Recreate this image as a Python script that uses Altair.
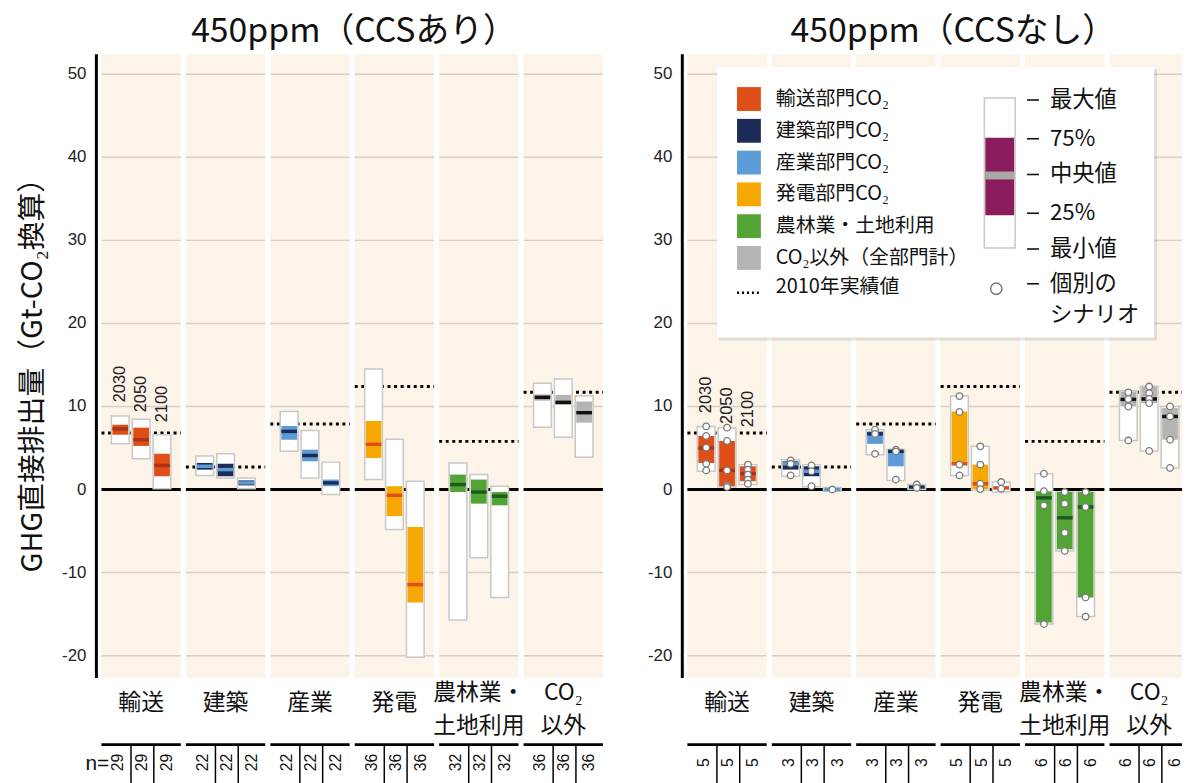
import altair as alt
import pandas as pd

# ---------------- data ----------------
PANEL_TITLES = ["450ppm（CCSあり）", "450ppm（CCSなし）"]
CATEGORY_LINES = [["輸送"], ["建築"], ["産業"], ["発電"], ["農林業・", "土地利用"], ["CO₂", "以外"]]
YEARS = ["2030", "2050", "2100"]
SECTOR_COLORS = ["#e04e17", "#1d2b57", "#5b9bd6", "#f6a800", "#52a535", "#b4b4b4"]
MEDIAN_COLORS = ["#a9321a", "#5b9bd6", "#1d2b57", "#e04e17", "#1e5b22", "#111111"]
LEGEND_LABELS = ["輸送部門CO₂", "建築部門CO₂", "産業部門CO₂", "発電部門CO₂",
                 "農林業・土地利用", "CO₂以外（全部門計）"]
HIST_2010 = [6.8, 2.7, 7.9, 12.4, 5.8, 11.7]
N_SCEN = [[29, 22, 22, 36, 32, 36], [5, 3, 3, 5, 6, 6]]
Y_TICKS = [-20, -10, 0, 10, 20, 30, 40, 50]
GRID_VALUES = [-20, -10, 10, 20, 30, 40, 50]

# left panel (CCSあり): sector x year (2030, 2050, 2100)
CCS_MIN = [[5.5, 3.7, 0.1], [1.7, 1.4, 0.1], [4.6, 1.4, -0.6], [1.2, -4.8, -20.2], [-15.7, -8.2, -13.0], [7.5, 6.3, 3.9]]
CCS_Q1 = [[6.6, 5.25, 1.6], [2.4, 1.6, 0.5], [6.0, 3.4, 0.4], [3.8, -3.2, -13.6], [-0.3, -1.7, -1.9], [10.7, 10.2, 8.05]]
CCS_MED = [[7.3, 6.0, 2.9], [2.8, 2.4, 0.8], [7.0, 4.1, 0.8], [5.45, -0.7, -11.45], [0.6, -0.3, -0.8], [11.1, 10.5, 9.25]]
CCS_Q3 = [[7.8, 7.45, 4.3], [3.2, 3.1, 1.1], [7.65, 4.8, 1.2], [8.25, 0.4, -4.5], [1.8, 1.2, -0.3], [11.45, 11.4, 10.6]]
CCS_MAX = [[8.85, 8.45, 6.6], [4.05, 4.3, 1.4], [9.4, 7.1, 3.3], [14.5, 6.05, 1.0], [3.2, 1.8, 0.4], [12.8, 13.3, 11.25]]

# right panel (CCSなし)
NOCCS_MIN = [[2.2, 0.3, 0.6], [1.6, 0.35, -0.2], [4.2, 1.1, 0.0], [1.7, -0.1, -0.3], [-16.2, -7.4, -15.3], [5.9, 4.65, 2.6]]
NOCCS_Q1 = [[3.2, 0.4, 1.0], [2.4, 1.6, -0.1], [5.5, 2.8, 0.15], [3.0, 0.05, 0.1], [-16.0, -7.2, -13.0], [10.0, 10.4, 6.0]]
NOCCS_MED = [[5.0, 2.3, 1.9], [3.1, 2.2, 0.0], [6.7, 4.6, 0.3], [3.1, 0.7, 0.2], [-1.0, -3.4, -2.1], [10.85, 10.9, 8.8]]
NOCCS_Q3 = [[6.45, 5.85, 2.8], [3.4, 2.8, 0.1], [7.0, 4.7, 0.45], [9.4, 3.0, 0.35], [-0.2, -0.3, -0.3], [11.8, 12.4, 9.8]]
NOCCS_MAX = [[7.6, 7.45, 3.0], [3.6, 3.0, 0.25], [7.2, 4.85, 0.6], [11.25, 5.2, 0.9], [1.9, -0.3, -0.3], [11.9, 12.45, 10.0]]
NOCCS_SCENARIOS = [
    [[7.6, 6.45, 5.05, 3.1, 2.3], [7.45, 5.85, 2.3, 0.5, 0.3], [3.0, 2.4, 1.8, 1.2, 0.7]],
    [[3.5, 3.1, 1.7], [2.9, 2.2, 0.4], [0.0]],
    [[7.2, 6.7, 4.3], [4.8, 4.6, 1.2], [0.6, 0.2]],
    [[11.25, 9.35, 3.0, 1.7], [5.2, 3.0, 0.7, 0.05], [0.9, 0.1]],
    [[1.9, -0.2, -1.9, -16.2], [-0.3, -1.7, -5.2, -7.4], [-0.3, -2.1, -13.0, -15.3]],
    [[11.7, 10.9, 10.0, 5.9], [12.4, 11.6, 10.9, 10.4, 4.65], [10.0, 8.8, 6.0, 2.6]],
]
STATS = [(CCS_MIN, CCS_Q1, CCS_MED, CCS_Q3, CCS_MAX),
         (NOCCS_MIN, NOCCS_Q1, NOCCS_MED, NOCCS_Q3, NOCCS_MAX)]

# ---------------- layout ----------------
W, H = 1093, 628
UNIT = 85.0
XMAX = W / UNIT
YMIN, YMAX = -22.7, 52.4
OFFSETS = [0.0, 6.94]
TITLE_X = [3.05, 3.21]
COL0 = 0.53
YEAR_OFF = [-0.247, 0.0, 0.247]
BOX_HALF = 0.105
IN_HALF = 0.093
COL_HALF = 0.47
YEAR_LABEL_Y = [[10.5, 9.3, 8.1], [9.2, 7.9, 7.5]]
CREAM = "#fcf4e8"
GRID = "#d6d0c8"
BOXLINE = "#c8c8c8"
FONT_JP = "Noto Sans CJK JP"
FONT_NUM = "Liberation Sans Narrow, Liberation Sans, sans-serif"
FONT_LAT = "Liberation Sans, sans-serif"

xs = alt.Scale(domain=[0, XMAX], nice=False, zero=False)
ys = alt.Scale(domain=[YMIN, YMAX], nice=False, zero=False)


def X(f):
    return alt.X(f, type="quantitative", scale=xs, axis=None)


def Y(f):
    return alt.Y(f, type="quantitative", scale=ys, axis=None)


def PY(f):
    return alt.Y(f, type="quantitative", scale=None, axis=None)


# columns
cols = []
for p, off in enumerate(OFFSETS):
    for i in range(6):
        c = off + COL0 + i
        cols.append(dict(panel=p, cat=i, xc=c, xl=c - COL_HALF, xr=c + COL_HALF,
                         hist=HIST_2010[i], zero=0.0))
cols_df = pd.DataFrame(cols)

grid_df = pd.DataFrame([dict(xl=r["xl"], xr=r["xr"], g=g) for r in cols for g in GRID_VALUES])

boxes = []
points = []
for p, off in enumerate(OFFSETS):
    mn, q1, md, q3, mx = STATS[p]
    for i in range(6):
        for j in range(3):
            xc = off + COL0 + i + YEAR_OFF[j]
            boxes.append(dict(xl=xc - BOX_HALF, xr=xc + BOX_HALF, il=xc - IN_HALF, ir=xc + IN_HALF,
                              mn=mn[i][j], q1=q1[i][j], md=md[i][j], q3=q3[i][j], mx=mx[i][j],
                              color=SECTOR_COLORS[i], mcolor=MEDIAN_COLORS[i]))
            if p == 1:
                for v in NOCCS_SCENARIOS[i][j]:
                    points.append(dict(x=xc, v=v))
boxes_df = pd.DataFrame(boxes)
points_df = pd.DataFrame(points)

year_df = pd.DataFrame([dict(x=off + COL0 + YEAR_OFF[j], y=YEAR_LABEL_Y[p][j], t=YEARS[j])
                        for p, off in enumerate(OFFSETS) for j in range(3)])

cat_rows = []
for p, off in enumerate(OFFSETS):
    for i, lines in enumerate(CATEGORY_LINES):
        c = off + COL0 + i
        if len(lines) == 1:
            cat_rows.append(dict(x=c, py=653, t=lines[0]))
        else:
            cat_rows.append(dict(x=c, py=643, t=lines[0]))
            cat_rows.append(dict(x=c, py=676, t=lines[1]))
cat_df = pd.DataFrame(cat_rows)

sep_df = pd.DataFrame([dict(x=r["xc"] + d) for r in cols for d in (-0.12, 0.15)])
n_df = pd.DataFrame([dict(x=r["xc"] + d, t=str(N_SCEN[r["panel"]][r["cat"]]))
                     for r in cols for d in (-0.27, 0.015, 0.31)])

tick_df = pd.DataFrame([dict(x=off, v=v, t=str(v)) for off in OFFSETS for v in Y_TICKS])
axis_df = pd.DataFrame([dict(x=off) for off in OFFSETS])
title_df = pd.DataFrame([dict(x=off + TITLE_X[p], t=PANEL_TITLES[p]) for p, off in enumerate(OFFSETS)])

one = pd.DataFrame({"a": [0]})

layers = []
# backgrounds
layers.append(alt.Chart(cols_df).mark_rect(color=CREAM).encode(
    x=X("xl"), x2="xr", y=alt.value(0), y2=alt.value(H)))
layers.append(alt.Chart(grid_df).mark_rule(color=GRID, strokeWidth=1.5).encode(
    x=X("xl"), x2="xr", y=Y("g")))
layers.append(alt.Chart(cols_df).mark_rule(color="black", strokeWidth=3).encode(
    x=X("xl"), x2="xr", y=Y("zero")))
layers.append(alt.Chart(cols_df).mark_rule(color="black", strokeWidth=3, strokeDash=[3, 3.6]).encode(
    x=X("xl"), x2="xr", y=Y("hist")))
# boxes
layers.append(alt.Chart(boxes_df).mark_rect(fill="white", stroke=BOXLINE, strokeWidth=1.5).encode(
    x=X("xl"), x2="xr", y=Y("mn"), y2="mx"))
layers.append(alt.Chart(boxes_df).mark_rect().encode(
    x=X("il"), x2="ir", y=Y("q1"), y2="q3", color=alt.Color("color:N", scale=None)))
layers.append(alt.Chart(boxes_df).mark_rule(strokeWidth=3.5).encode(
    x=X("il"), x2="ir", y=Y("md"), color=alt.Color("mcolor:N", scale=None)))
layers.append(alt.Chart(points_df).mark_point(shape="circle", fill="white", stroke="#7a7a7a",
                                              strokeWidth=1.3, size=44, opacity=1).encode(
    x=X("x"), y=Y("v")))
# year labels
layers.append(alt.Chart(year_df).mark_text(angle=270, align="left", baseline="middle",
                                           fontSize=16.5, font=FONT_LAT, color="#222").encode(
    x=X("x"), y=Y("y"), text="t:N"))
# axes
layers.append(alt.Chart(axis_df).mark_rule(color="black", strokeWidth=3).encode(
    x=X("x"), y=alt.value(0), y2=alt.value(H)))
layers.append(alt.Chart(tick_df).mark_text(align="right", baseline="middle", dx=-10,
                                           fontSize=17, font=FONT_NUM, color="#222").encode(
    x=X("x"), y=Y("v"), text="t:N"))
layers.append(alt.Chart(one).mark_text(angle=270, align="center", baseline="middle",
                                       fontSize=29, font=FONT_JP, color="#111").encode(
    x=alt.value(-64), y=alt.value(316), text=alt.value("GHG直接排出量（Gt-CO₂換算）")))
layers.append(alt.Chart(title_df).mark_text(baseline="middle", fontSize=34, font=FONT_JP,
                                            color="#111").encode(
    x=X("x"), y=alt.value(-22), text="t:N"))
# bottom table
layers.append(alt.Chart(cat_df).mark_text(baseline="middle", fontSize=23, font=FONT_JP,
                                          color="#111").encode(
    x=X("x"), y=PY("py"), text="t:N"))
layers.append(alt.Chart(cols_df).mark_rule(color="black", strokeWidth=3).encode(
    x=X("xl"), x2="xr", y=alt.value(695)))
layers.append(alt.Chart(sep_df).mark_rule(color="black", strokeWidth=1.5).encode(
    x=X("x"), y=alt.value(696), y2=alt.value(740)))
layers.append(alt.Chart(n_df).mark_text(angle=270, baseline="middle", fontSize=16,
                                        font=FONT_LAT, color="#111").encode(
    x=X("x"), y=alt.value(713), text="t:N"))
layers.append(alt.Chart(one).mark_text(baseline="middle", fontSize=21, font=FONT_LAT,
                                       color="#111").encode(
    x=alt.value(1), y=alt.value(715), text=alt.value("n=")))

# legend
leg_df = pd.DataFrame([dict(py0=33 + 32 * i, py1=57 + 32 * i, pyc=45 + 32 * i,
                            color=SECTOR_COLORS[i], t=LEGEND_LABELS[i]) for i in range(6)])
layers.append(alt.Chart(one).mark_rect(fill="#000", opacity=0.10).encode(
    x=alt.value(627), x2=alt.value(1068), y=alt.value(15), y2=alt.value(288)))
layers.append(alt.Chart(one).mark_rect(fill="white").encode(
    x=alt.value(625), x2=alt.value(1065), y=alt.value(13), y2=alt.value(285)))
layers.append(alt.Chart(leg_df).mark_rect().encode(
    x=alt.value(645), x2=alt.value(669), y=PY("py0"), y2="py1",
    color=alt.Color("color:N", scale=None)))
layers.append(alt.Chart(leg_df).mark_text(align="left", baseline="middle", fontSize=20,
                                          font=FONT_JP, color="#111").encode(
    x=alt.value(684), y=PY("pyc"), text="t:N"))
layers.append(alt.Chart(one).mark_rule(color="black", strokeWidth=2.5, strokeDash=[2, 3]).encode(
    x=alt.value(645), x2=alt.value(670), y=alt.value(240)))
layers.append(alt.Chart(one).mark_text(align="left", baseline="middle", fontSize=20,
                                       font=FONT_JP, color="#111").encode(
    x=alt.value(684), y=alt.value(234), text=alt.value("2010年実績値")))
layers.append(alt.Chart(one).mark_rect(fill="white", stroke=BOXLINE, strokeWidth=1.5).encode(
    x=alt.value(894), x2=alt.value(925), y=alt.value(44), y2=alt.value(195)))
layers.append(alt.Chart(one).mark_rect(fill="#8a1b5c").encode(
    x=alt.value(895), x2=alt.value(924), y=alt.value(84), y2=alt.value(162)))
layers.append(alt.Chart(one).mark_rect(fill="#a8a8a8").encode(
    x=alt.value(895), x2=alt.value(924), y=alt.value(118), y2=alt.value(126)))
key_df = pd.DataFrame({"t": ["最大値", "75%", "中央値", "25%", "最小値", "個別の", "シナリオ"],
                       "py": [46, 85, 121, 160, 196, 231, 263],
                       "dash": [1, 1, 1, 1, 1, 1, 0]})
layers.append(alt.Chart(key_df).transform_filter("datum.dash == 1").mark_rule(
    color="#111", strokeWidth=1.6).encode(x=alt.value(937), x2=alt.value(949), y=PY("py")))
layers.append(alt.Chart(key_df).mark_text(align="left", baseline="middle", fontSize=22.5,
                                          font=FONT_JP, color="#111").encode(
    x=alt.value(960), y=PY("py"), text="t:N"))
layers.append(alt.Chart(one).mark_point(shape="circle", fill="white", stroke="#777",
                                        strokeWidth=1.5, size=130, opacity=1).encode(
    x=alt.value(906), y=alt.value(236)))

chart = alt.layer(*layers).properties(
    width=W, height=H,
    autosize=alt.AutoSizeParams(type="none"),
    padding={"left": 89, "top": 44, "right": 0, "bottom": 103},
    background="white",
).configure_view(strokeWidth=0)

chart.save("out.html", embed_options={"renderer": "svg", "actions": False})
